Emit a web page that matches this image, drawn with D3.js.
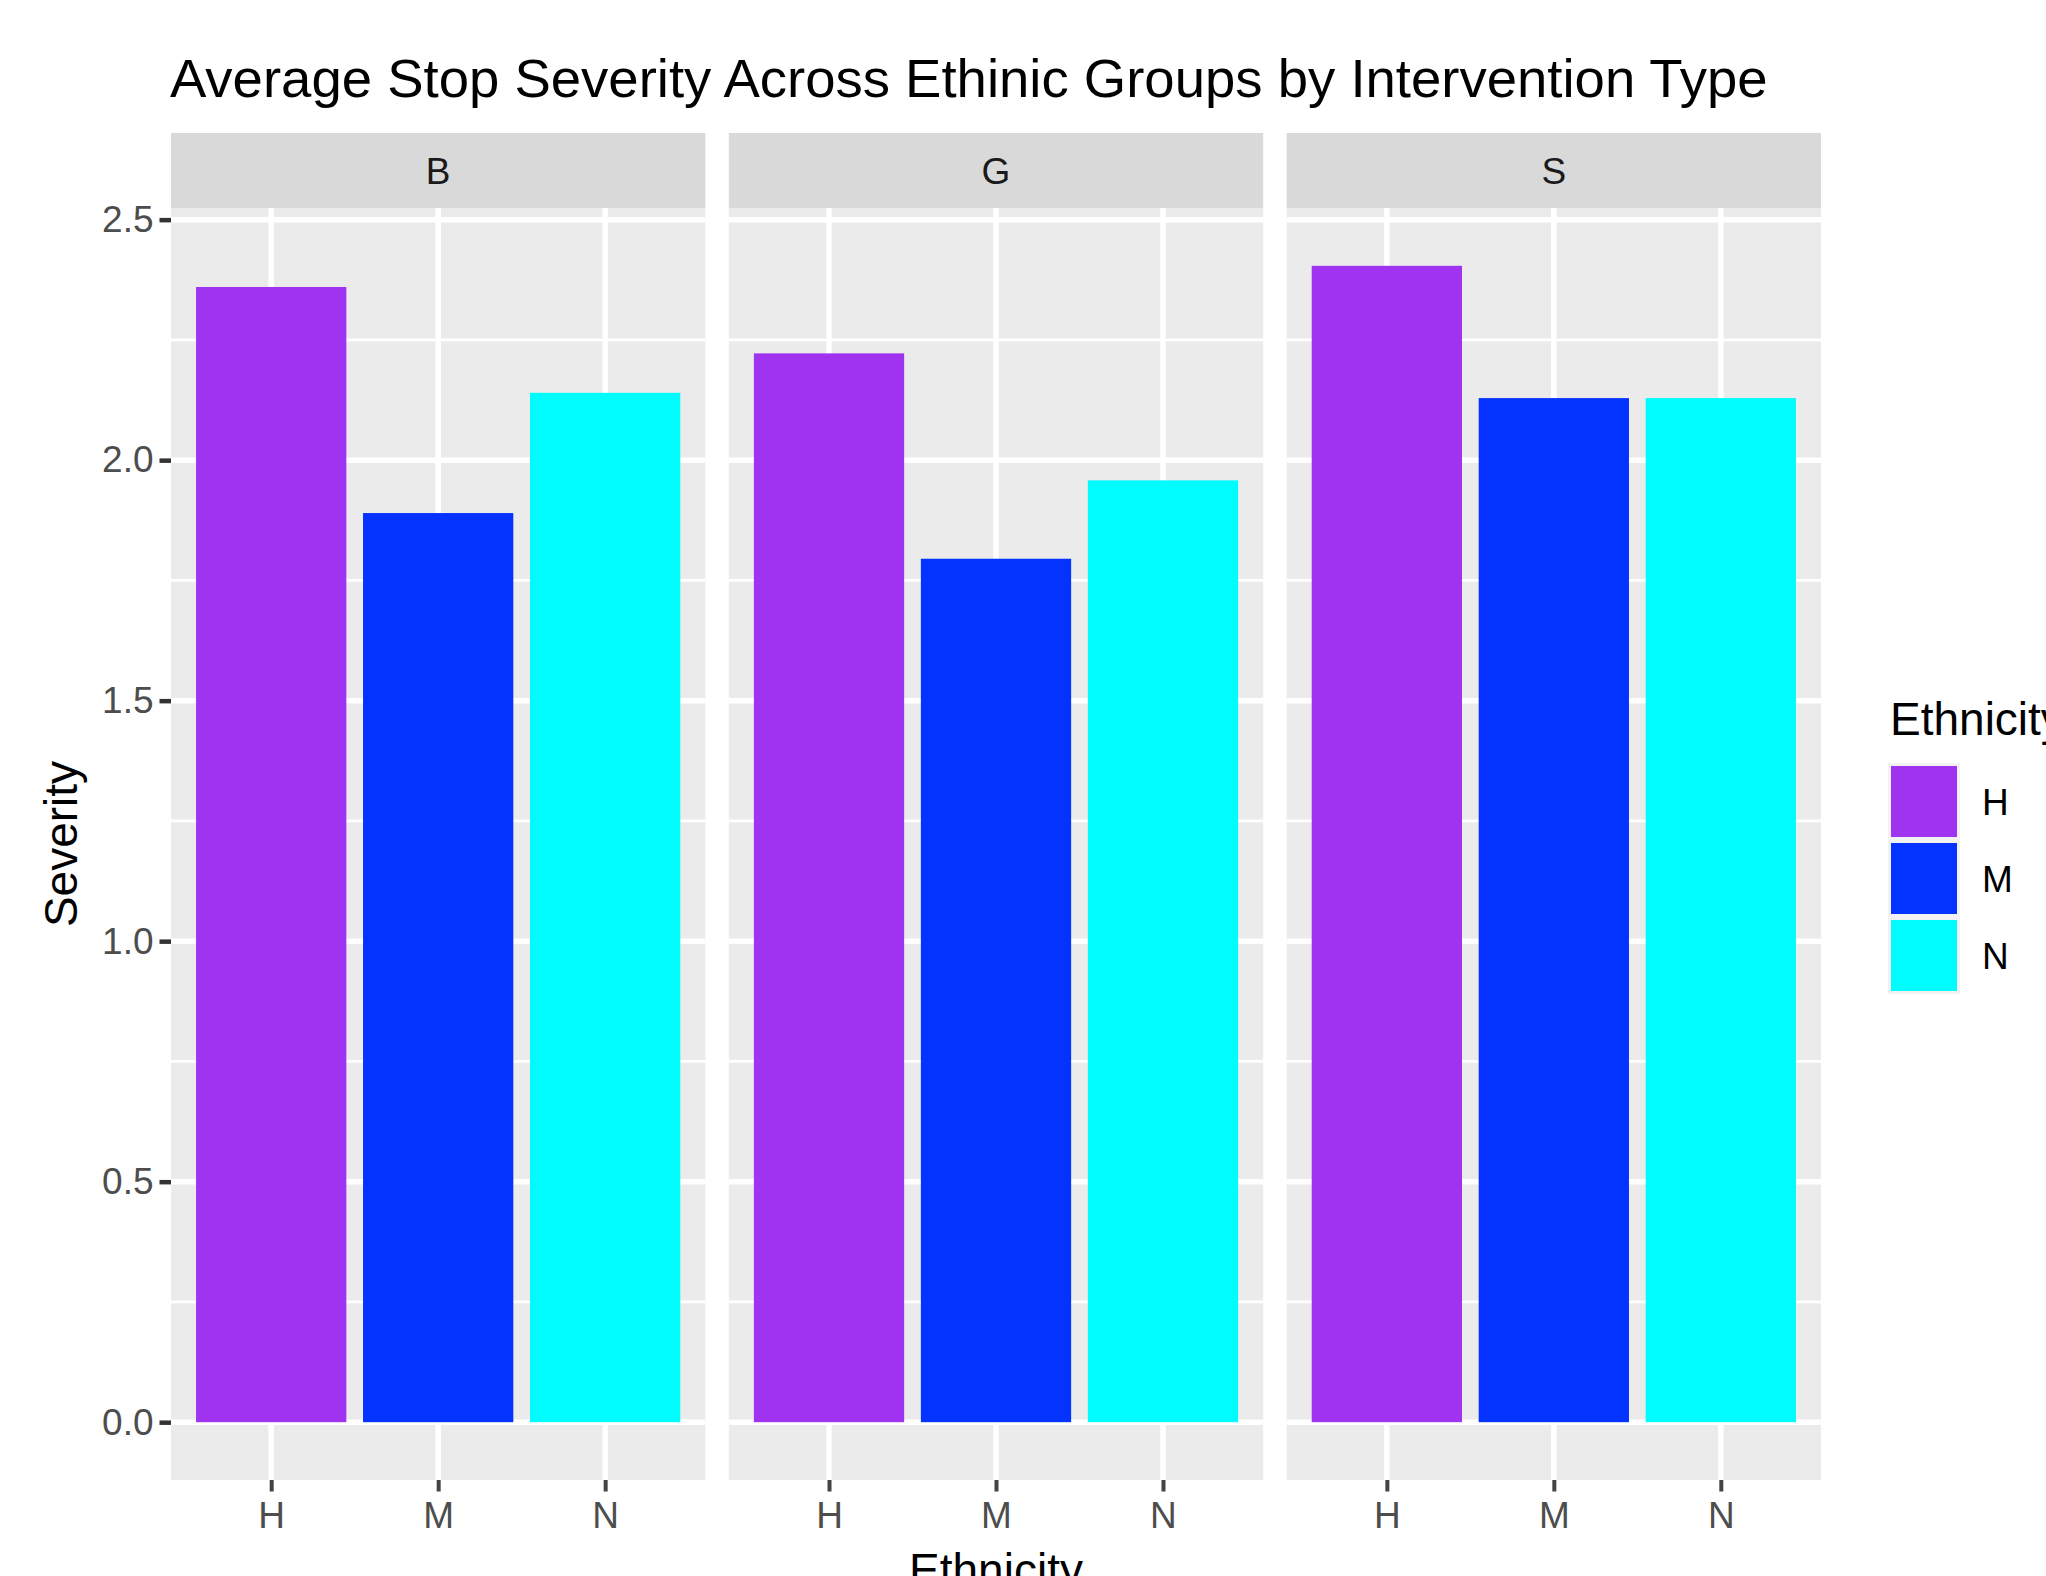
<html>
<head>
    <meta name="viewport" content="width=device-width, initial-scale=1">
    <script src="https://d3js.org/d3.v7.min.js"></script>
    <style type="text/css">
        body {
            margin: 0;
            background-color: white;
            overflow: hidden;
        }
        text {
            font-family: "Liberation Sans", Arial, Helvetica, sans-serif;
        }
    </style>
</head>
<body>
<div id="graph"></div>

<script>

  // data
  var types = ['B', 'G', 'S'];
  var ethnicities = ['H', 'M', 'N'];
  var severityB = [2.36, 1.89, 2.14];
  var severityG = [2.222, 1.795, 1.958];
  var severityS = [2.404, 2.129, 2.129];
  var yTicks = [0, 0.5, 1.0, 1.5, 2.0, 2.5];
  var yMinor = [0.25, 0.75, 1.25, 1.75, 2.25];
  var colors = ['#A033F0', '#0433FF', '#00FCFF'];

  var rows = [];
  [severityB, severityG, severityS].forEach(function (vals, i) {
    vals.forEach(function (v, j) {
      rows.push({type: types[i], eth: ethnicities[j], value: v});
    });
  });

  var W = 2046, H = 1576;
  var panelTop = 208, panelBottom = 1480, stripTop = 133;

  var svg = d3.select('#graph')
    .append('svg')
    .attr('width', W)
    .attr('height', H);

  // facets
  var fx = d3.scaleBand()
    .domain(types)
    .range([171, 1821])
    .paddingInner(0.0421)
    .paddingOuter(0);

  // y scale with ggplot's 5% expansion
  var ymax = d3.max(rows, function (d) { return d.value; });
  var pad = ymax * 0.05;
  var y = d3.scaleLinear()
    .domain([-pad, ymax + pad])
    .range([panelBottom, panelTop]);

  var colorScale = d3.scaleOrdinal().domain(ethnicities).range(colors);

  types.forEach(function (t) {
    var x0 = fx(t);
    var x = d3.scalePoint()
      .domain(ethnicities)
      .range([0, fx.bandwidth()])
      .padding(0.6);
    var bw = x.step() * 0.9;

    var g = svg.append('g').attr('transform', 'translate(' + x0 + ',0)');

    // panel background
    g.append('rect')
      .attr('x', 0).attr('y', panelTop)
      .attr('width', fx.bandwidth()).attr('height', panelBottom - panelTop)
      .style('fill', '#EBEBEB');

    // strip
    g.append('rect')
      .attr('x', 0).attr('y', stripTop)
      .attr('width', fx.bandwidth()).attr('height', panelTop - stripTop)
      .style('fill', '#D9D9D9');
    g.append('text')
      .attr('x', fx.bandwidth() / 2)
      .attr('y', (stripTop + panelTop) / 2 + 13)
      .attr('text-anchor', 'middle')
      .style('font-size', '37px')
      .style('fill', '#1A1A1A')
      .text(t);

    // grid lines
    g.selectAll('.minor').data(yMinor).enter().append('line')
      .attr('x1', 0).attr('x2', fx.bandwidth())
      .attr('y1', function (d) { return y(d); })
      .attr('y2', function (d) { return y(d); })
      .style('stroke', 'white').style('stroke-width', 2.8);
    g.selectAll('.major').data(yTicks).enter().append('line')
      .attr('x1', 0).attr('x2', fx.bandwidth())
      .attr('y1', function (d) { return y(d); })
      .attr('y2', function (d) { return y(d); })
      .style('stroke', 'white').style('stroke-width', 5.5);
    g.selectAll('.vmajor').data(ethnicities).enter().append('line')
      .attr('x1', function (d) { return x(d); })
      .attr('x2', function (d) { return x(d); })
      .attr('y1', panelTop).attr('y2', panelBottom)
      .style('stroke', 'white').style('stroke-width', 5.5);

    // bars
    g.selectAll('.bar')
      .data(rows.filter(function (d) { return d.type === t; }))
      .enter()
      .append('rect')
      .attr('x', function (d) { return x(d.eth) - bw / 2; })
      .attr('y', function (d) { return y(d.value); })
      .attr('width', bw)
      .attr('height', function (d) { return y(0) - y(d.value); })
      .style('fill', function (d) { return colorScale(d.eth); });

    // x axis
    var xa = g.append('g')
      .attr('transform', 'translate(0,' + panelBottom + ')')
      .call(d3.axisBottom(x).tickSize(11.5).tickPadding(10));
    xa.select('.domain').remove();
    xa.selectAll('line').style('stroke', '#444444').style('stroke-width', 4);
    xa.selectAll('text')
      .attr('font-family', null)
      .style('font-size', '37px')
      .style('fill', '#4D4D4D');
  });

  // y axis on the first panel
  var ya = svg.append('g')
    .attr('transform', 'translate(' + fx(types[0]) + ',0)')
    .call(d3.axisLeft(y).tickValues(yTicks).tickFormat(d3.format('.1f')).tickSize(11.5).tickPadding(6));
  ya.select('.domain').remove();
  ya.selectAll('line').style('stroke', '#333333').style('stroke-width', 4.5);
  ya.selectAll('text')
    .attr('font-family', null)
    .style('font-size', '37px')
    .style('fill', '#4D4D4D');

  // titles
  svg.append('text')
    .attr('x', 170).attr('y', 97)
    .style('font-size', '54.5px')
    .style('fill', 'black')
    .text('Average Stop Severity Across Ethinic Groups by Intervention Type');

  svg.append('text')
    .attr('x', (fx.range()[0] + fx.range()[1]) / 2).attr('y', 1586)
    .attr('text-anchor', 'middle')
    .style('font-size', '46px')
    .text('Ethnicity');

  svg.append('text')
    .attr('transform', 'translate(77,' + ((panelTop + panelBottom) / 2) + ') rotate(-90)')
    .attr('text-anchor', 'middle')
    .style('font-size', '46px')
    .text('Severity');

  // legend
  var legend = svg.append('g').attr('transform', 'translate(1890,0)');
  legend.append('text')
    .attr('x', 0).attr('y', 735)
    .style('font-size', '46px')
    .text('Ethnicity');
  legend.append('rect')
    .attr('x', -2).attr('y', 763)
    .attr('width', 72).attr('height', 231)
    .style('fill', '#F2F2F2');
  var keys = legend.selectAll('.key').data(ethnicities).enter().append('g')
    .attr('transform', function (d, i) { return 'translate(0,' + (766 + i * 77) + ')'; });
  keys.append('rect')
    .attr('x', 1).attr('y', 0)
    .attr('width', 66).attr('height', 71)
    .style('fill', function (d) { return colorScale(d); });
  keys.append('text')
    .attr('x', 92).attr('y', 35.5 + 13)
    .style('font-size', '37px')
    .text(function (d) { return d; });

</script>
</body>
</html>
